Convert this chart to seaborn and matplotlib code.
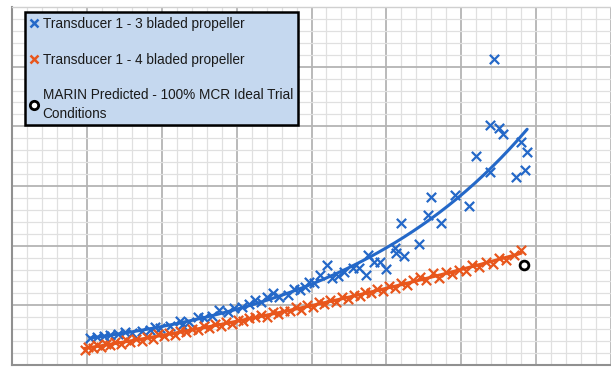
import numpy as np
import pandas as pd
import matplotlib
matplotlib.use("Agg")
import matplotlib.pyplot as plt
from matplotlib.ticker import MultipleLocator
from matplotlib.lines import Line2D
import seaborn as sns

# ---------------- data (grid units) ----------------
blue_x = [1.04, 1.13, 1.23, 1.31, 1.41, 1.51, 1.60, 1.73, 1.84, 1.91, 1.97, 2.11,
          2.24, 2.27, 2.37, 2.48, 2.57, 2.67, 2.77, 2.88, 2.97, 3.07, 3.17, 3.24,
          3.33, 3.41, 3.48, 3.57, 3.68, 3.77, 3.84, 3.91, 3.97, 4.04, 4.11, 4.21,
          4.27, 4.36, 4.44, 4.55, 4.64, 4.73, 4.75, 4.84, 4.91, 5.00, 5.11, 5.13,
          5.20, 5.24, 5.43, 5.55, 5.60, 5.73, 5.92, 6.11, 6.20, 6.39, 6.39, 6.44,
          6.51, 6.56, 6.73, 6.80, 6.85, 6.88]
blue_y = [0.45, 0.47, 0.49, 0.50, 0.52, 0.55, 0.54, 0.57, 0.59, 0.64, 0.62, 0.65,
          0.74, 0.67, 0.72, 0.80, 0.79, 0.82, 0.92, 0.89, 0.95, 0.97, 1.02, 1.09,
          1.06, 1.14, 1.21, 1.14, 1.17, 1.27, 1.26, 1.31, 1.39, 1.37, 1.51, 1.68,
          1.46, 1.49, 1.56, 1.62, 1.62, 1.51, 1.84, 1.73, 1.73, 1.61, 1.96, 1.88,
          2.38, 1.83, 2.03, 2.51, 2.81, 2.38, 2.85, 2.66, 3.50, 4.02, 3.23, 5.13,
          3.97, 3.87, 3.15, 3.74, 3.27, 3.57]

orange_x = [0.97, 1.02, 1.08, 1.13, 1.19, 1.25, 1.31, 1.38, 1.45, 1.52, 1.58, 1.66,
            1.73, 1.80, 1.88, 1.95, 2.03, 2.10, 2.18, 2.25, 2.33, 2.41, 2.48, 2.56,
            2.63, 2.71, 2.79, 2.86, 2.94, 3.02, 3.09, 3.17, 3.25, 3.32, 3.40, 3.48,
            3.55, 3.63, 3.71, 3.79, 3.86, 3.94, 4.02, 4.10, 4.17, 4.25, 4.33, 4.41,
            4.49, 4.57, 4.65, 4.72, 4.80, 4.88, 4.96, 5.04, 5.12, 5.20, 5.28, 5.36,
            5.45, 5.53, 5.62, 5.70, 5.79, 5.88, 5.97, 6.06, 6.15, 6.24, 6.33, 6.42,
            6.51, 6.60, 6.70, 6.80]
orange_y = [0.25, 0.31, 0.29, 0.33, 0.30, 0.36, 0.33, 0.38, 0.35, 0.42, 0.39, 0.44,
            0.41, 0.47, 0.44, 0.52, 0.48, 0.54, 0.51, 0.57, 0.55, 0.61, 0.58, 0.65,
            0.62, 0.68, 0.65, 0.72, 0.69, 0.76, 0.73, 0.79, 0.80, 0.84, 0.81, 0.88,
            0.85, 0.91, 0.90, 0.97, 0.93, 1.01, 0.97, 1.05, 1.02, 1.09, 1.06, 1.14,
            1.11, 1.18, 1.15, 1.23, 1.20, 1.27, 1.24, 1.33, 1.29, 1.37, 1.34, 1.42,
            1.47, 1.43, 1.55, 1.46, 1.56, 1.53, 1.60, 1.58, 1.67, 1.64, 1.73, 1.70,
            1.79, 1.76, 1.85, 1.93]

marin_x = [6.84]
marin_y = [1.675]

labels = ["Transducer 1 - 3 bladed propeller",
          "Transducer 1 - 4 bladed propeller",
          "MARIN Predicted - 100% MCR Ideal Trial\nConditions"]

BLUE = "#2468c8"
ORANGE = "#e8561c"

# ---------------- trend lines computed from the data ----------------
bx = np.array(blue_x); by = np.array(blue_y)
kb = np.polyfit(bx, np.log(by), 1)
fit_bx = np.linspace(bx.min(), bx.max(), 200)
fit_by = np.exp(np.polyval(kb, fit_bx))

ox = np.array(orange_x); oy = np.array(orange_y)
ko = np.polyfit(ox, oy, 2)
fit_ox = np.linspace(ox.min(), ox.max(), 200)
fit_oy = np.polyval(ko, fit_ox)

df_b = pd.DataFrame({"x": blue_x, "y": blue_y})
df_o = pd.DataFrame({"x": orange_x, "y": orange_y})
df_m = pd.DataFrame({"x": marin_x, "y": marin_y})

# ---------------- figure ----------------
sns.set_theme(style="white")
plt.rcParams["font.family"] = ["Liberation Sans", "DejaVu Sans"]

fig = plt.figure(figsize=(6.11, 3.67), dpi=100)
ax = fig.add_axes([12 / 611, 2 / 367, 599 / 611, 358 / 367])

ax.set_xlim(0, 8)
ax.set_ylim(0, 6)
ax.xaxis.set_major_locator(MultipleLocator(1))
ax.yaxis.set_major_locator(MultipleLocator(1))
ax.xaxis.set_minor_locator(MultipleLocator(0.2))
ax.yaxis.set_minor_locator(MultipleLocator(0.2))
ax.grid(which="minor", color="#e0e0e0", linewidth=0.9)
ax.grid(which="major", color="#b4b4b4", linewidth=1.3)
ax.set_axisbelow(True)
ax.tick_params(which="both", length=0, labelbottom=False, labelleft=False)
for s in ["left", "bottom"]:
    ax.spines[s].set_color("#909090")
    ax.spines[s].set_linewidth(1.5)
for s in ["top", "right"]:
    ax.spines[s].set_color("#d0d0d0")
    ax.spines[s].set_linewidth(1.0)

sns.scatterplot(data=df_b, x="x", y="y", ax=ax, marker="x", color=BLUE,
                s=45, linewidth=1.6, zorder=3, legend=False)
sns.scatterplot(data=df_o, x="x", y="y", ax=ax, marker="x", color=ORANGE,
                s=45, linewidth=1.6, zorder=3, legend=False)
sns.lineplot(x=fit_bx, y=fit_by, ax=ax, color=BLUE, linewidth=2.2, zorder=4)
sns.lineplot(x=fit_ox, y=fit_oy, ax=ax, color=ORANGE, linewidth=2.2, zorder=4)
sns.scatterplot(data=df_m, x="x", y="y", ax=ax, marker="o", s=40,
                facecolor="white", edgecolor="black", linewidth=2, zorder=5,
                legend=False)
ax.set_xlabel(""); ax.set_ylabel("")

handles = [
    Line2D([], [], marker="x", color=BLUE, linestyle="none", markersize=6, markeredgewidth=1.8),
    Line2D([], [], marker="x", color=ORANGE, linestyle="none", markersize=6, markeredgewidth=1.8),
    Line2D([], [], marker="o", color="black", markerfacecolor="white", linestyle="none",
           markersize=6, markeredgewidth=2),
]
leg = fig.legend(handles, labels, loc="upper left",
                 bbox_to_anchor=(25 / 611, 1 - 12 / 367), borderaxespad=0,
                 frameon=True, fancybox=False, fontsize=9.8, handlelength=0.6,
                 handletextpad=0.35, labelspacing=1.6, borderpad=0.35,
                 edgecolor="black", facecolor="#c5d8ef", framealpha=1)
leg.get_frame().set_linewidth(1.8)
for t in leg.get_texts():
    t.set_color("#1a1a1a")
    t.set_linespacing(1.4)

fig.savefig("out.png", dpi=100, facecolor="white")
